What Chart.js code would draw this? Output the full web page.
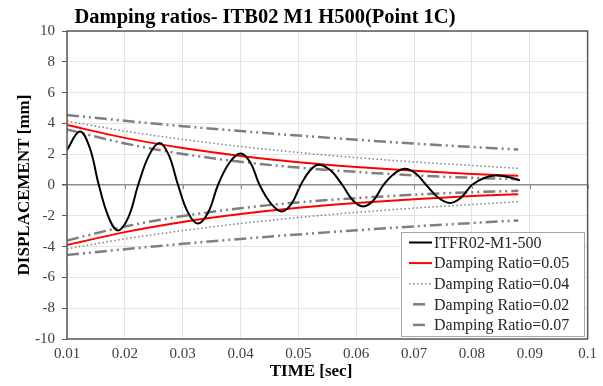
<!DOCTYPE html>
<html>
<head>
<meta charset="utf-8">
<script src="https://cdn.jsdelivr.net/npm/chart.js@4.4.1/dist/chart.umd.min.js"></script>
<style>
    body { margin: 0; background: #fff; }
    #wrap { width: 603px; height: 386px; }
</style>
</head>
<body>
<div id="wrap"><canvas id="dampingChart" width="603" height="386"></canvas></div>
<script>
// Measured response (time in sec, displacement in mm)
const respTime = [
    0.0100, 0.0122, 0.0139, 0.0155, 0.0172, 0.0188, 0.0206, 0.0223, 0.0242, 0.0260,
    0.0276, 0.0292, 0.0309, 0.0326, 0.0344, 0.0361, 0.0381, 0.0400, 0.0417, 0.0433,
    0.0453, 0.0472, 0.0488, 0.0504, 0.0520, 0.0535, 0.0556, 0.0576, 0.0594, 0.0612,
    0.0630, 0.0647, 0.0666, 0.0684, 0.0703, 0.0721, 0.0742, 0.0762, 0.0781, 0.0800,
    0.0820, 0.0840, 0.0862, 0.0883
];
const respDisp = [
    2.28, 3.48, 2.45, 0, -2.10, -2.95, -2.10, 0, 1.94, 2.73,
    1.94, 0, -1.78, -2.50, -1.78, 0, 1.46, 2.05, 1.46, 0,
    -1.22, -1.72, -1.22, 0, 0.94, 1.32, 0.94, 0, -0.99, -1.39,
    -0.99, 0, 0.75, 1.06, 0.75, 0, -0.83, -1.17, -0.83, 0,
    0.44, 0.62, 0.52, 0.30
];

// Decay envelopes for each damping ratio
const envTime = [0.01, 0.02, 0.03, 0.04, 0.05, 0.06, 0.07, 0.08, 0.088];
const ratio005 = [3.90, 3.06, 2.40, 1.89, 1.48, 1.17, 0.92, 0.72, 0.60];
const ratio004 = [4.15, 3.50, 2.96, 2.50, 2.11, 1.78, 1.50, 1.27, 1.08];
const ratio002 = [4.55, 4.17, 3.82, 3.50, 3.21, 2.94, 2.69, 2.47, 2.30];
const ratio007 = [3.60, 2.70, 2.02, 1.51, 1.13, 0.85, 0.63, 0.47, 0.38];

const xTicks = [0.01, 0.02, 0.03, 0.04, 0.05, 0.06, 0.07, 0.08, 0.09, 0.1];
const yTicks = [-10, -8, -6, -4, -2, 0, 2, 4, 6, 8, 10];

const SERIF = '"Liberation Serif", "DejaVu Serif", serif';
const DASH_DOT = [12, 4, 2, 4, 2, 4];
const DOTS = [1.5, 2.5];

function toPoints(xs, ys, sign = 1) {
    return xs.map((x, i) => ({ x: x, y: sign * ys[i] }));
}

function envelope(label, values, color, width, dash) {
    const common = {
        borderColor: color,
        borderWidth: width,
        borderDash: dash,
        pointRadius: 0,
        cubicInterpolationMode: 'monotone',
        fill: false
    };
    return [
        { ...common, label: label, data: toPoints(envTime, values) },
        { ...common, label: '', data: toPoints(envTime, values, -1) }
    ];
}

const datasets = [
    {
        label: 'ITFR02-M1-500',
        data: toPoints(respTime, respDisp),
        borderColor: '#000000',
        borderWidth: 2,
        borderDash: [],
        pointRadius: 0,
        tension: 0.4,
        fill: false
    },
    ...envelope('Damping Ratio=0.05', ratio005, '#ff0000', 2, []),
    ...envelope('Damping Ratio=0.04', ratio004, '#808080', 1.5, DOTS),
    ...envelope('Damping Ratio=0.02', ratio002, '#7f7f7f', 2.5, DASH_DOT),
    ...envelope('Damping Ratio=0.07', ratio007, '#7f7f7f', 2.5, DASH_DOT)
];

// Titles, plot frame, ticks on the zero line and the inset legend
const decorPlugin = {
    id: 'decor',
    afterDatasetsDraw(chart) {
        const { ctx, chartArea: a, scales } = chart;
        ctx.save();
        // small ticks hanging off the zero line
        const y0 = scales.y.getPixelForValue(0);
        ctx.strokeStyle = '#8c8c8c';
        ctx.lineWidth = 1;
        xTicks.forEach(t => {
            const x = Math.round(scales.x.getPixelForValue(t)) + 0.5;
            ctx.beginPath();
            ctx.moveTo(x, y0);
            ctx.lineTo(x, y0 + 4);
            ctx.stroke();
        });
        // plot frame
        ctx.strokeStyle = '#595959';
        ctx.lineWidth = 1.5;
        ctx.strokeRect(a.left, a.top, a.right - a.left, a.bottom - a.top);
        ctx.restore();
    },
    afterDraw(chart) {
        const { ctx } = chart;
        ctx.save();
        ctx.fillStyle = '#000';
        ctx.textAlign = 'center';
        ctx.textBaseline = 'middle';
        ctx.font = 'bold 20.5px ' + SERIF;
        ctx.fillText('Damping ratios- ITB02 M1 H500(Point 1C)', 265, 18);
        ctx.font = 'bold 17px ' + SERIF;
        ctx.fillText('TIME [sec]', 311, 372);

        // legend box
        const box = { left: 401, top: 232, width: 183, height: 104 };
        ctx.fillStyle = '#ffffff';
        ctx.fillRect(box.left, box.top, box.width, box.height);
        ctx.strokeStyle = '#a6a6a6';
        ctx.lineWidth = 1;
        ctx.strokeRect(box.left + 0.5, box.top + 0.5, box.width, box.height);

        const entries = chart.data.datasets.filter(d => d.label);
        ctx.font = '16px ' + SERIF;
        ctx.textAlign = 'left';
        entries.forEach((d, i) => {
            const y = 242.5 + i * 20.6;
            const dash = d.borderDash || [];
            const shortSample = dash.length > 2;
            ctx.strokeStyle = d.borderColor;
            ctx.lineWidth = d.borderWidth;
            ctx.setLineDash(shortSample ? [] : dash);
            ctx.beginPath();
            ctx.moveTo(shortSample ? 413 : 409, y);
            ctx.lineTo(shortSample ? 425 : 432, y);
            ctx.stroke();
            ctx.setLineDash([]);
            ctx.fillStyle = '#262626';
            ctx.fillText(d.label, 434, y + 1);
        });
        ctx.restore();
    }
};

new Chart(document.getElementById('dampingChart'), {
    type: 'line',
    data: { datasets: datasets },
    plugins: [decorPlugin],
    options: {
        responsive: false,
        animation: false,
        layout: { padding: { top: 31, right: 15, bottom: 0, left: 0 } },
        plugins: {
            legend: { display: false },
            title: { display: false },
            tooltip: { enabled: false }
        },
        scales: {
            x: {
                type: 'linear',
                min: 0.01,
                max: 0.1,
                afterFit: scale => { scale.height = 47; },
                afterBuildTicks: scale => { scale.ticks = xTicks.map(v => ({ value: v })); },
                ticks: {
                    color: '#404040',
                    font: { family: SERIF, size: 15 },
                    padding: 6,
                    maxRotation: 0,
                    autoSkip: false,
                    callback: v => String(+v.toFixed(2))
                },
                grid: { color: '#e3e3e3', drawTicks: false },
                border: { display: false }
            },
            y: {
                min: -10,
                max: 10,
                afterFit: scale => { scale.width = 67; },
                afterBuildTicks: scale => { scale.ticks = yTicks.map(v => ({ value: v })); },
                ticks: {
                    color: '#404040',
                    font: { family: SERIF, size: 15 },
                    padding: 7
                },
                grid: {
                    color: c => c.tick && c.tick.value === 0 ? '#8c8c8c' : '#e3e3e3',
                    lineWidth: c => c.tick && c.tick.value === 0 ? 1.5 : 1,
                    tickColor: '#595959',
                    tickLength: 5
                },
                border: { display: false },
                title: {
                    display: true,
                    text: 'DISPLACEMENT [mm]',
                    color: '#000',
                    font: { family: SERIF, size: 17, weight: 'bold' },
                    padding: { top: 14, bottom: 0 }
                }
            }
        }
    }
});
</script>
</body>
</html>
